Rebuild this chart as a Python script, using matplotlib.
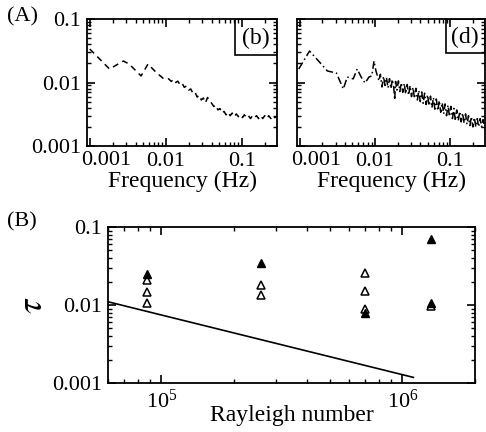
import matplotlib
matplotlib.use("Agg")
import matplotlib.pyplot as plt
from matplotlib.patches import Rectangle
from matplotlib.ticker import LogLocator, NullFormatter, FixedLocator, FixedFormatter, LogFormatterMathtext

plt.rcParams['font.family'] = ['Liberation Serif', 'DejaVu Serif']
plt.rcParams['mathtext.fontset'] = 'stix'

# spectrum (b)
freq_b = [0.001, 0.00135, 0.00182, 0.00277, 0.0033, 0.00473, 0.00583, 0.0074, 0.0094, 0.0109,
          0.0118, 0.0126, 0.0135, 0.0144, 0.0154, 0.0164, 0.0175, 0.0187, 0.02, 0.0213,
          0.0227, 0.0242, 0.0258, 0.0275, 0.0293, 0.0312, 0.0332, 0.0354, 0.0377, 0.0401,
          0.0427, 0.0455, 0.0484, 0.0515, 0.0548, 0.0583, 0.062, 0.066, 0.0702, 0.0747,
          0.0795, 0.0846, 0.09, 0.0958, 0.102, 0.108, 0.115, 0.122, 0.13, 0.138,
          0.147, 0.156, 0.166, 0.177, 0.188, 0.2, 0.213, 0.226, 0.24, 0.255, 0.271, 0.288]
psd_b = [0.0337, 0.0234, 0.0163, 0.0218, 0.0195, 0.0127, 0.0195, 0.0146, 0.0114, 0.0114,
         0.0104, 0.0112, 0.0100, 0.0105, 0.0092, 0.0097, 0.0084, 0.0088, 0.0076, 0.0079,
         0.0068, 0.0071, 0.0059, 0.0063, 0.0053, 0.0057, 0.0048, 0.0058, 0.0052, 0.0047,
         0.0042, 0.0044, 0.0037, 0.0039, 0.0033, 0.0035, 0.0031, 0.0034, 0.0030, 0.0033,
         0.0029, 0.0032, 0.0029, 0.0031, 0.0028, 0.0031, 0.0028, 0.0030, 0.0027, 0.0030,
         0.0028, 0.0030, 0.0027, 0.0030, 0.0027, 0.0030, 0.0027, 0.0030, 0.0027, 0.0030, 0.0028, 0.0029]

# spectrum (d)
freq_d = [0.00097, 0.00135, 0.00183, 0.00233, 0.00307, 0.0038, 0.00428, 0.00514, 0.0058, 0.00655,
          0.00738, 0.00833, 0.0091, 0.0097, 0.0103, 0.0113,
          0.0118, 0.0124, 0.013, 0.0136, 0.0142, 0.0149, 0.0156, 0.0163, 0.017, 0.0178,
          0.0183, 0.0188, 0.0196, 0.0205, 0.0214, 0.0224, 0.0234, 0.0245, 0.0256, 0.0268,
          0.028, 0.0293, 0.0306, 0.032, 0.0335, 0.035, 0.0366, 0.0383, 0.04, 0.0418,
          0.0437, 0.0457, 0.0478, 0.05, 0.0523, 0.0547, 0.0572, 0.0598, 0.0625, 0.0654,
          0.0684, 0.0715, 0.0748, 0.0782, 0.0818, 0.0855, 0.0894, 0.0935, 0.0978, 0.102,
          0.107, 0.112, 0.117, 0.122, 0.128, 0.134, 0.14, 0.146, 0.153, 0.16,
          0.167, 0.175, 0.183, 0.191, 0.2, 0.209, 0.219, 0.229, 0.239, 0.25,
          0.261, 0.273, 0.285]
psd_d = [0.0163, 0.0313, 0.021, 0.0152, 0.0141, 0.0079, 0.0122, 0.0114, 0.0163, 0.0122,
         0.0098, 0.0122, 0.0127, 0.0218, 0.0152, 0.0106,
         0.0135, 0.0085, 0.0125, 0.0090, 0.0120, 0.0082, 0.0115, 0.0080, 0.0112, 0.0082,
         0.0053, 0.0104, 0.0076, 0.0106, 0.0072, 0.0099, 0.0070, 0.0097, 0.0066, 0.0093,
         0.0063, 0.0089, 0.0060, 0.0084, 0.0056, 0.0081, 0.0053, 0.0075, 0.0050, 0.0071,
         0.0047, 0.0068, 0.0045, 0.0064, 0.0043, 0.0061, 0.0040, 0.0058, 0.0038, 0.0055,
         0.0036, 0.0052, 0.0034, 0.0048, 0.0032, 0.0046, 0.0030, 0.0044, 0.0029, 0.0042,
         0.0027, 0.0039, 0.0025, 0.0037, 0.0025, 0.0035, 0.0024, 0.0033, 0.0023, 0.0032,
         0.0022, 0.0030, 0.0021, 0.0029, 0.0020, 0.0028, 0.0020, 0.0027, 0.0020, 0.0027,
         0.0020, 0.0026, 0.0021]

# panel (B): tau vs Rayleigh number
ra_open = [8.7e4, 8.7e4, 8.7e4, 2.6e5, 2.6e5, 7.0e5, 7.0e5, 7.0e5, 1.31e6]
tau_open = [0.021, 0.0145, 0.0105, 0.0178, 0.0133, 0.026, 0.015, 0.0088, 0.0097]
ra_filled = [8.7e4, 2.6e5, 7.0e5, 1.31e6, 1.31e6]
tau_filled = [0.025, 0.035, 0.0078, 0.0695, 0.0105]
ra_line = [6.0e4, 1.11e6]
tau_line = [0.011, 0.00118]

W, H = 486, 432
fig = plt.figure(figsize=(W / 100, H / 100), dpi=100)


def box(l, t, r, b):
    return [l / W, 1 - b / H, (r - l) / W, (b - t) / H]


def style_log_axes(ax):
    ax.set_xscale('log')
    ax.set_yscale('log')
    ax.tick_params(which='both', direction='in', top=True, right=True, labelsize=16, pad=4)
    ax.tick_params(which='major', length=6, width=1.2)
    ax.tick_params(which='minor', length=3, width=1)
    for s in ax.spines.values():
        s.set_linewidth(1.3)


def spectrum(ax, f, p, ls, tag, boxx, boxy, ylabels):
    style_log_axes(ax)
    ax.plot(f, p, color='black', lw=1.1, linestyle=ls)
    ax.set_xlim(0.00092, 0.29)
    ax.set_ylim(0.001, 0.1)
    ax.xaxis.set_major_locator(FixedLocator([0.001, 0.01, 0.1]))
    # first label is drawn by hand a bit to the right, as in the original
    ax.xaxis.set_major_formatter(FixedFormatter(['', '0.01', '0.1']))
    ax.annotate('0.001', xy=(0.001, 0), xycoords=('data', 'axes fraction'),
                xytext=(16, -5), textcoords='offset pixels', ha='center', va='top', fontsize=16)
    ax.xaxis.set_minor_locator(LogLocator(base=10, subs=range(2, 10), numticks=20))
    ax.xaxis.set_minor_formatter(NullFormatter())
    ax.yaxis.set_major_locator(FixedLocator([0.001, 0.01, 0.1]))
    if ylabels:
        ax.yaxis.set_major_formatter(FixedFormatter(['0.001', '0.01', '0.1']))
    else:
        ax.yaxis.set_major_formatter(NullFormatter())
    ax.yaxis.set_minor_locator(LogLocator(base=10, subs=range(2, 10), numticks=20))
    ax.yaxis.set_minor_formatter(NullFormatter())
    ax.set_xlabel('Frequency (Hz)', fontsize=17, labelpad=0)
    ax.add_patch(Rectangle((boxx, boxy), 1 - boxx, 1 - boxy, transform=ax.transAxes,
                           fill=False, edgecolor='black', lw=1.2, zorder=5))
    ax.text((1 + boxx) / 2, (1 + boxy) / 2 - 0.01, tag, transform=ax.transAxes,
            ha='center', va='center', fontsize=17)


ax_b = fig.add_axes(box(87, 19, 277, 146))
spectrum(ax_b, freq_b, psd_b, (0, (4, 3)), '(b)', 0.78, 0.72, True)

ax_d = fig.add_axes(box(297, 19, 485, 146))
spectrum(ax_d, freq_d, psd_d, (0, (5, 2, 1, 2)), '(d)', 0.79, 0.73, False)

ax_B = fig.add_axes(box(108, 227, 475, 383))
style_log_axes(ax_B)
ax_B.plot(ra_line, tau_line, color='black', lw=1.2)
ax_B.plot(ra_open, tau_open, linestyle='none', marker='^', markersize=5.5,
          markerfacecolor='white', markeredgecolor='black', markeredgewidth=1.1)
ax_B.plot(ra_filled, tau_filled, linestyle='none', marker='^', markersize=5.5,
          color='black')
ax_B.set_xlim(6.0e4, 2.0e6)
ax_B.set_ylim(0.001, 0.1)
ax_B.xaxis.set_major_locator(FixedLocator([1e5, 1e6]))
ax_B.xaxis.set_major_formatter(LogFormatterMathtext())
ax_B.xaxis.set_minor_locator(LogLocator(base=10, subs=range(2, 10), numticks=20))
ax_B.xaxis.set_minor_formatter(NullFormatter())
ax_B.tick_params(axis='x', which='major', pad=5)
ax_B.yaxis.set_major_locator(FixedLocator([0.001, 0.01, 0.1]))
ax_B.yaxis.set_major_formatter(FixedFormatter(['0.001', '0.01', '0.1']))
ax_B.yaxis.set_minor_locator(LogLocator(base=10, subs=range(2, 10), numticks=20))
ax_B.yaxis.set_minor_formatter(NullFormatter())
ax_B.set_xlabel('Rayleigh number', fontsize=17, labelpad=-6)
ax_B.set_ylabel(r'$\tau$', fontsize=26, labelpad=2)

fig.text(22 / W, 1 - 17 / H, '(A)', fontsize=16, ha='center', va='center')
fig.text(22 / W, 1 - 222 / H, '(B)', fontsize=16, ha='center', va='center')

fig.savefig('out.png', dpi=100)
